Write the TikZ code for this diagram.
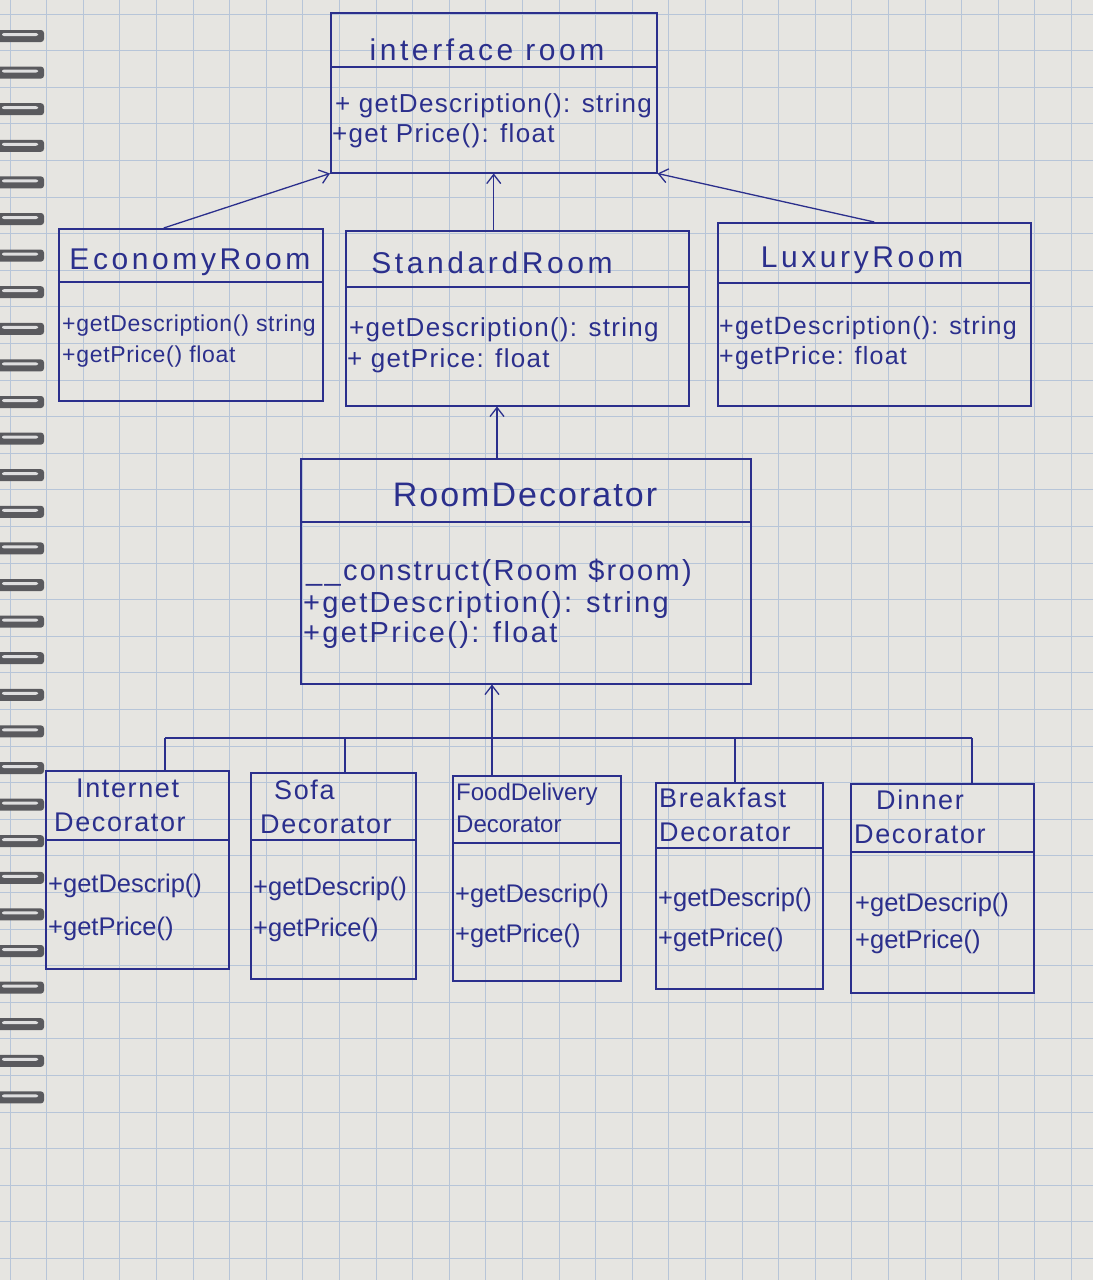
\documentclass[tikz,border=0pt]{standalone}
\usepackage{fontspec}
\setmainfont{Liberation Sans}
\usetikzlibrary{arrows.meta,calc}
\definecolor{ink}{HTML}{2B2F8C}
\definecolor{paper}{HTML}{E6E5E1}
\definecolor{gridline}{HTML}{B7C5D8}
\definecolor{coil}{HTML}{5A5A5E}
\begin{document}
\begin{tikzpicture}[x=1pt,y=-1pt,
  umlbox/.style={draw=ink, line width=1.5pt, anchor=north west, inner sep=0pt},
  divider/.style={draw=ink, line width=1.4pt},
  link/.style={draw=ink, line width=1.3pt},
  inherit/.style={link, -{Straight Barb[length=9pt,width=14pt,line width=1.3pt]}},
  ttl/.style={text=ink, inner sep=0pt, font=\fontsize{30}{32}\selectfont\addfontfeature{LetterSpace=12}},
  bigttl/.style={ttl, font=\fontsize{34}{36}\selectfont\addfontfeature{LetterSpace=6}},
  smallttl/.style={text=ink, inner sep=0pt, align=left, anchor=north west,
    font=\fontsize{27}{34}\selectfont\addfontfeature{LetterSpace=6}},
  meth/.style={text=ink, inner sep=0pt, anchor=west, font=\fontsize{26}{28}\selectfont\addfontfeature{LetterSpace=5}},
  luxmeth/.style={meth, font=\fontsize{25}{28}\selectfont\addfontfeature{LetterSpace=5}},
  smallmeth/.style={meth, font=\fontsize{23}{26}\selectfont\addfontfeature{LetterSpace=3}},
  decmeth/.style={meth, font=\fontsize{29}{30}\selectfont\addfontfeature{LetterSpace=8}},
  leafmeth/.style={meth, font=\fontsize{25.5}{28}\selectfont}]

% paper and squared grid
\fill[paper] (0,0) rectangle (1093,1280);
\useasboundingbox (0,0) rectangle (1093,1280);
\foreach \gx in {0,1,...,30} \draw[gridline, line width=0.9pt] (10+\gx*36.6,0) -- (10+\gx*36.6,1280);
\foreach \gy in {0,1,...,35} \draw[gridline, line width=0.9pt] (0,14+\gy*36.6) -- (1093,14+\gy*36.6);

% spiral binding along the left edge
\foreach \k in {0,1,...,29} {
  \fill[coil, rounded corners=3pt] (-4,{30+\k*36.6}) rectangle (44,{42+\k*36.6});
  \fill[white!80!coil, rounded corners=2pt] (2,{33+\k*36.6}) rectangle (38,{36+\k*36.6});
}

% ---------- interface ----------
\node[umlbox, minimum width=326pt, minimum height=160pt] (iface) at (330,12) {};
\draw[divider] (330,67) -- (656,67);
\node[ttl] (iface-t) at (487,50) {interface room};
\node[meth] (iface-m1) at (335,106) {+ getDescription(): string};
\node[meth] (iface-m2) at (332,136) {+get Price(): float};

% ---------- concrete rooms ----------
\node[umlbox, minimum width=264pt, minimum height=172pt] (eco) at (58,228) {};
\draw[divider] (58,282) -- (322,282);
\node[ttl] (eco-t) at (190,262) {EconomyRoom};
\node[smallmeth] (eco-m1) at (62,326) {+getDescription() string};
\node[smallmeth] (eco-m2) at (62,357) {+getPrice() float};

\node[umlbox, minimum width=343pt, minimum height=175pt] (std) at (345,230) {};
\draw[divider] (345,287) -- (688,287);
\node[ttl] (std-t) at (492,263) {StandardRoom};
\node[meth] (std-m1) at (349,330) {+getDescription(): string};
\node[meth] (std-m2) at (347,361) {+ getPrice: float};

\node[umlbox, minimum width=313pt, minimum height=183pt] (lux) at (717,222) {};
\draw[divider] (717,283) -- (1030,283);
\node[ttl] (lux-t) at (862,260) {LuxuryRoom};
\node[luxmeth] (lux-m1) at (719,328) {+getDescription(): string};
\node[luxmeth] (lux-m2) at (719,358) {+getPrice: float};

% ---------- decorator base ----------
\node[umlbox, minimum width=450pt, minimum height=225pt] (dec) at (300,458) {};
\draw[divider] (300,522) -- (750,522);
\node[bigttl] (dec-t) at (525,495) {RoomDecorator};
\node[decmeth] (dec-m1) at (306,573) {\_\_construct(Room \$room)};
\node[decmeth] (dec-m2) at (303,605) {+getDescription(): string};
\node[decmeth] (dec-m3) at (303,635) {+getPrice(): float};

% ---------- concrete decorators ----------
\node[umlbox, minimum width=183pt, minimum height=198pt] (inet) at (45,770) {};
\draw[divider] (45,840) -- (228,840);
\node[smallttl] (inet-t) at (54,779) {\hspace{22pt}Internet\\Decorator};
\node[leafmeth] (inet-m1) at (48,886) {+getDescrip()};
\node[leafmeth] (inet-m2) at (48,929) {+getPrice()};

\node[umlbox, minimum width=165pt, minimum height=206pt] (sofa) at (250,772) {};
\draw[divider] (250,840) -- (415,840);
\node[smallttl] (sofa-t) at (260,780) {\hspace{14pt}Sofa\\Decorator};
\node[leafmeth] (sofa-m1) at (253,889) {+getDescrip()};
\node[leafmeth] (sofa-m2) at (253,930) {+getPrice()};

\node[umlbox, minimum width=168pt, minimum height=205pt] (food) at (452,775) {};
\draw[divider] (452,843) -- (620,843);
\node[smallttl, font=\fontsize{24}{32}\selectfont] (food-t) at (456,783) {FoodDelivery\\Decorator};
\node[leafmeth] (food-m1) at (455,896) {+getDescrip()};
\node[leafmeth] (food-m2) at (455,936) {+getPrice()};

\node[umlbox, minimum width=167pt, minimum height=206pt] (brk) at (655,782) {};
\draw[divider] (655,848) -- (822,848);
\node[smallttl] (brk-t) at (659,788) {Breakfast\\Decorator};
\node[leafmeth] (brk-m1) at (658,900) {+getDescrip()};
\node[leafmeth] (brk-m2) at (658,940) {+getPrice()};

\node[umlbox, minimum width=183pt, minimum height=209pt] (din) at (850,783) {};
\draw[divider] (850,852) -- (1033,852);
\node[smallttl] (din-t) at (854,790) {\hspace{22pt}Dinner\\Decorator};
\node[leafmeth] (din-m1) at (855,905) {+getDescrip()};
\node[leafmeth] (din-m2) at (855,942) {+getPrice()};

% ---------- realisation arrows to the interface ----------
\draw[inherit] ([xshift=-27pt]eco.north) -- (iface.south west);
\draw[inherit] (iface.south |- std.north) -- (iface.south);
\draw[inherit] (lux.north) -- (iface.south east);

% ---------- decorator extends StandardRoom ----------
\coordinate (decup) at (497,458);
\draw[inherit] (decup) -- (decup |- std.south);

% ---------- decorator hierarchy bus ----------
\coordinate (bus) at (492,738);
\coordinate (busL) at (165,738);
\coordinate (busR) at (972,738);
\draw[inherit] (bus) -- (bus |- dec.south);
\draw[link] (busL) -- (busR);
\draw[link] (busL) -- (busL |- inet.north);
\draw[link] (345,738) -- (345,772);
\draw[link] (bus) -- (bus |- food.north);
\draw[link] (735,738) -- (735,782);
\draw[link] (busR) -- (busR |- din.north);
\end{tikzpicture}
\end{document}
